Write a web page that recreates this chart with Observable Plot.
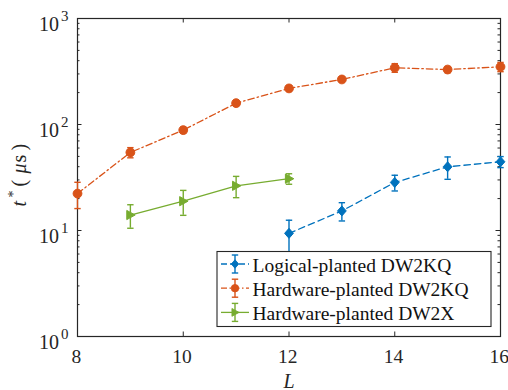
<!DOCTYPE html>
<html><head><meta charset="utf-8">
<script src="https://cdn.jsdelivr.net/npm/d3@7"></script>
<script src="https://cdn.jsdelivr.net/npm/@observablehq/plot@0.6"></script>
<style>
html,body{margin:0;padding:0;background:#fff;}
</style>
</head><body><div id="chart"></div>
<script>
// ---- data ----
const seriesNames = ["Logical-planted DW2KQ", "Hardware-planted DW2KQ", "Hardware-planted DW2X"];
const seriesColors = ["#0072BD", "#D95319", "#77AC30"];
const L_logical = [12, 13, 14, 15, 16];
const t_logical = [9.4, 15.3, 28.4, 39.9, 44.5];
const e_logical = [3.1, 3.0, 4.8, 9.5, 5.3];
const L_hwKQ = [8, 9, 10, 11, 12, 13, 14, 15, 16];
const t_hwKQ = [22.3, 54.5, 88.5, 159, 219, 266, 343, 330, 350];
const e_hwKQ = [6.2, 6.0, 6.0, 9, 14, 14, 32, 22, 35];
const L_hwX = [9, 10, 11, 12];
const t_hwX = [14.0, 18.9, 26.4, 30.8];
const e_hwX = [3.5, 5.0, 6.0, 3.5];
const xTicks = [8, 10, 12, 14, 16];
const yTickExps = [0, 1, 2, 3];

// ---- layout ----
const W = 508, H = 390, mL = 77, mR = 8, mT = 18, mB = 54;
const fw = W - mL - mR, fh = H - mT - mB;
const axisColor = "#262626";
const serif = "Times New Roman";

const mk = (Ls, ts, es) => Ls.map((L, i) => ({L, t: ts[i], lo: ts[i] - es[i], hi: ts[i] + es[i]}));
const capSym = {draw(ctx) { ctx.moveTo(-3.2, 0); ctx.lineTo(3.2, 0); }};
const diamondSym = {draw(ctx) { ctx.moveTo(0, -5); ctx.lineTo(4.4, 0); ctx.lineTo(0, 5); ctx.lineTo(-4.4, 0); ctx.closePath(); }};
const circleSym = {draw(ctx) { ctx.moveTo(4.4, 0); ctx.arc(0, 0, 4.4, 0, 2 * Math.PI); ctx.closePath(); }};
const triSym = {draw(ctx) { ctx.moveTo(4.8, 0); ctx.lineTo(-3.6, -4.6); ctx.lineTo(-3.6, 4.6); ctx.closePath(); }};

const series = [
  {name: seriesNames[0], color: seriesColors[0], dash: "6.5,4", sym: diamondSym, data: mk(L_logical, t_logical, e_logical)},
  {name: seriesNames[1], color: seriesColors[1], dash: "6.5,3,1.5,3", sym: circleSym, data: mk(L_hwKQ, t_hwKQ, e_hwKQ)},
  {name: seriesNames[2], color: seriesColors[2], dash: null, sym: triSym, data: mk(L_hwX, t_hwX, e_hwX)}
];

const xMinor = xTicks.slice(1, -1);
const yMajorInner = yTickExps.slice(1, -1).map(e => 10 ** e);
const yMinor = [];
for (const e of yTickExps.slice(0, -1)) for (let m = 2; m <= 9; m++) yMinor.push(m * 10 ** e);

const txt = {fontFamily: serif, fill: axisColor, lineAnchor: "bottom"};
const marks = [
  Plot.frame({stroke: axisColor, strokeWidth: 1.2}),
  Plot.ruleX(xMinor, {x: d => d, insetTop: fh - 4.5, stroke: axisColor}),
  Plot.ruleX(xMinor, {x: d => d, insetBottom: fh - 4.5, stroke: axisColor}),
  Plot.ruleY(yMajorInner, {y: d => d, insetRight: fw - 4.5, stroke: axisColor}),
  Plot.ruleY(yMajorInner, {y: d => d, insetLeft: fw - 4.5, stroke: axisColor}),
  Plot.ruleY(yMinor, {y: d => d, insetRight: fw - 2.5, stroke: axisColor}),
  Plot.ruleY(yMinor, {y: d => d, insetLeft: fw - 2.5, stroke: axisColor}),
];
for (const s of series) {
  marks.push(Plot.line(s.data, {x: "L", y: "t", stroke: s.color, strokeWidth: 1.3, strokeDasharray: s.dash || undefined}));
  marks.push(Plot.ruleX(s.data, {x: "L", y1: "lo", y2: "hi", stroke: s.color, strokeWidth: 1.4}));
  marks.push(Plot.dot(s.data, {x: "L", y: "hi", symbol: capSym, stroke: s.color, strokeWidth: 1.4}));
  marks.push(Plot.dot(s.data, {x: "L", y: "lo", symbol: capSym, stroke: s.color, strokeWidth: 1.4}));
  marks.push(Plot.dot(s.data, {x: "L", y: "t", symbol: s.sym, fill: s.color, stroke: s.color, strokeWidth: 1}));
}
// tick labels
marks.push(Plot.text(xTicks, {...txt, x: d => d, frameAnchor: "bottom", dx: -1.2, dy: 26, text: d => String(d), fontSize: 19.5}));
marks.push(Plot.text(yTickExps, {...txt, y: d => 10 ** d, frameAnchor: "left", dx: -18.5, dy: 12.5, textAnchor: "end", text: () => "10", fontSize: 20}));
marks.push(Plot.text(yTickExps, {...txt, y: d => 10 ** d, frameAnchor: "left", dx: -16.5, dy: 2.5, textAnchor: "start", text: d => String(d), fontSize: 15}));
// x axis title
marks.push(Plot.text(["L"], {...txt, frameAnchor: "bottom", dy: 51, text: d => d, fontSize: 20, fontStyle: "italic"}));
// y axis title pieces (rotated, reading bottom to top)
const yMid = fh / 2 + mT;
const yPieces = [
  {s: "t", at: 206, size: 20, italic: true, off: 0},
  {s: "*", at: 197, size: 14, italic: false, off: -8},
  {s: "(", at: 186, size: 20, italic: false, off: 0},
  {s: "\u03BC", at: 173, size: 20, italic: true, off: 0},
  {s: "s", at: 162, size: 20, italic: false, off: 0},
  {s: ")", at: 150, size: 20, italic: false, off: 0}
];
for (const p of yPieces) {
  marks.push(Plot.text([p.s], {...txt, frameAnchor: "left", dx: 25.5 + p.off - mL, dy: p.at - yMid, rotate: -90,
    text: d => d, fontSize: p.size, fontStyle: p.italic ? "italic" : "normal"}));
}
// legend box and labels
const lgX = 216.5, lgY = 251, lgW = 274, lgH = 75;
marks.push(Plot.frame({fill: "white", stroke: axisColor, strokeWidth: 1.1,
  insetLeft: lgX - mL, insetTop: lgY - mT, insetRight: mL + fw - (lgX + lgW), insetBottom: mT + fh - (lgY + lgH)}));
const rowY = i => 264 + 24.2 * i;
seriesNames.forEach((name, i) => {
  marks.push(Plot.text([name], {...txt, frameAnchor: "top-left", dx: 252 - mL, dy: rowY(i) + 7.5 - mT,
    textAnchor: "start", text: d => d, fontSize: 19.5, fill: "#111"}));
});

const plot = Plot.plot({
  width: W, height: H,
  marginLeft: mL, marginRight: mR, marginTop: mT, marginBottom: mB,
  x: {domain: [8, 16], axis: null},
  y: {type: "log", domain: [1, 1000], axis: null},
  marks
});
document.getElementById("chart").appendChild(plot);

// legend samples (line, error bar, marker)
const svg = d3.select(plot);
const lg = svg.append("g");
series.forEach((s, i) => {
  const cy = rowY(i), cx = 235;
  const g = lg.append("g").attr("stroke", s.color).attr("fill", s.color);
  g.append("line").attr("x1", 221).attr("x2", 249).attr("y1", cy).attr("y2", cy)
    .attr("stroke-width", 1.3).attr("stroke-dasharray", s.dash ? (i === 0 ? "6,3" : "6,2.5,1.5,2.5") : null);
  g.append("line").attr("x1", cx).attr("x2", cx).attr("y1", cy - 9).attr("y2", cy + 9).attr("stroke-width", 1.4);
  g.append("line").attr("x1", cx - 3.2).attr("x2", cx + 3.2).attr("y1", cy - 9).attr("y2", cy - 9).attr("stroke-width", 1.4);
  g.append("line").attr("x1", cx - 3.2).attr("x2", cx + 3.2).attr("y1", cy + 9).attr("y2", cy + 9).attr("stroke-width", 1.4);
  const p = d3.path(); s.sym.draw(p);
  g.append("path").attr("d", p.toString()).attr("transform", `translate(${cx},${cy}) scale(0.85)`);
});
</script>
</body></html>
